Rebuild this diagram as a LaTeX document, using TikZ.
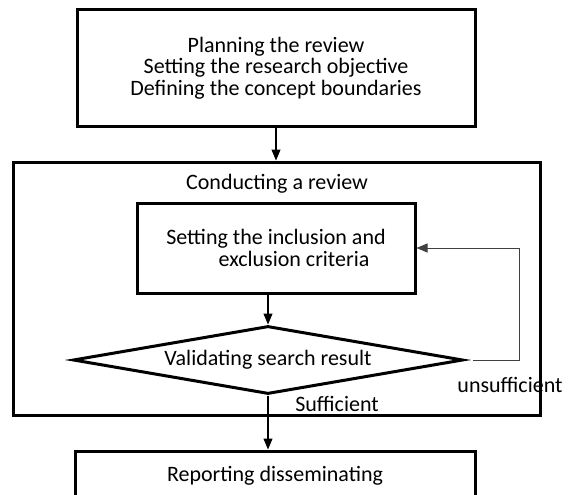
\documentclass[tikz,border=0pt]{standalone}
\usepackage{fontspec}
\setmainfont{Carlito}
\usetikzlibrary{shapes.geometric,arrows.meta}
\begin{document}
\begin{tikzpicture}[x=1pt,y=-1pt,
	boite/.style={draw, line width=3pt, inner sep=0pt},
	fleche/.style={-{Triangle[length=11pt,width=9pt]}, line width=1.2pt},
	retour/.style={-{Triangle[length=11pt,width=9pt]}, line width=1pt, black!75},
	every node/.style={font=\fontsize{22}{21.5}\selectfont}]
	\useasboundingbox (0,0) rectangle (570,495);
	% les boites
	\node[boite, minimum width=398pt, minimum height=116pt, align=center] (plan) at (276,68) {Planning the review\\Setting the research objective\\Defining the concept boundaries};
	\node[boite, minimum width=527pt, minimum height=253pt] (conduct) at (276.5,288.5) {};
	\node (titre) at (277,184) {Conducting a review};
	\node[boite, minimum width=278pt, minimum height=90pt, align=center] (crit) at (276,248) {Setting the inclusion and\\\hspace*{36pt}exclusion criteria};
	\node[boite, diamond, minimum width=390pt, minimum height=68pt, aspect=5.7] (dia) at (268,360) {Validating search result};
	\node[boite, minimum width=400pt, minimum height=50pt] (rapport) at (275,476) {Reporting disseminating};
	% les fleches
	\draw[fleche] (plan.south) -- (plan.south |- conduct.north);
	\draw[fleche] (crit.south -| dia.north) -- (dia.north);
	\draw[fleche] (dia.south) -- (rapport.north -| dia.south);
	\draw[retour] ([xshift=8pt]dia.east) -- ++(47,0) |- (crit.east);
	% les etiquettes
	\node (suff) at (337,404) {Sufficient};
	\node (unsuff) at (510,385) {unsufficient};
\end{tikzpicture}
\end{document}
